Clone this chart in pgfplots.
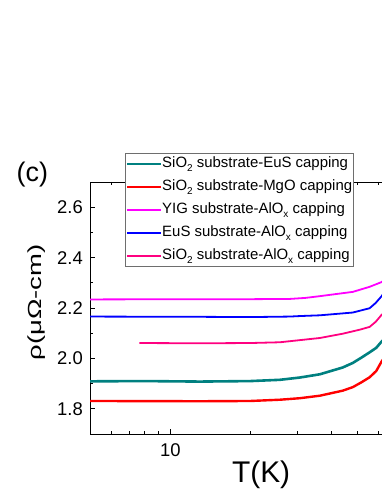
\documentclass[border=0pt]{standalone}
\usepackage{fontspec}
\setmainfont{Liberation Sans}
\usepackage{pgfplots}
\pgfplotsset{compat=1.18}
\definecolor{cteal}{RGB}{0,128,128}
\definecolor{cred}{RGB}{255,0,0}
\definecolor{cmag}{RGB}{255,0,255}
\definecolor{cblue}{RGB}{0,0,255}
\definecolor{cpink}{RGB}{255,0,128}
\definecolor{frame}{RGB}{110,110,110}
\newcommand{\sub}[1]{\raisebox{-0.3em}{\fontsize{10}{10}\selectfont #1}}
\begin{document}
\begin{tikzpicture}
\useasboundingbox (0,0) rectangle (382bp,494bp);
\begin{axis}[
  at={(90bp,60bp)}, anchor=south west,
  scale only axis, width=292bp, height=252bp,
  xmode=log, xmin=5, xmax=62, ymin=1.7, ymax=2.7,
  axis x line*=box, axis y line*=left,
  axis line style={-, line width=0.9bp, black},
  every tick/.style={black, line width=0.9bp},
  major tick length=5bp, minor tick length=3bp,
  xtick={10}, xticklabels={10},
  minor xtick={6,7,8,9,20,30,40,50,60},
  ytick={1.8,2.0,2.2,2.4,2.6}, yticklabels={1.8,2.0,2.2,2.4,2.6},
  minor ytick={1.9,2.1,2.3,2.5},
  /pgf/number format/assume math mode=true,
  tick label style={font=\fontsize{18.5}{18.5}\selectfont},
  yticklabel style={anchor=east, inner sep=0pt, xshift=-7bp},
  xticklabel style={anchor=north, inner sep=0pt, yshift=-9bp},
  xlabel={T(K)},
  xlabel style={at={(axis description cs:0.586,-0.1944)}, anchor=base, inner sep=0pt, font=\fontsize{30}{30}\selectfont},
  ylabel={\scalebox{1.45}[1]{ρ(μΩ-cm)}},
  ylabel style={at={(axis description cs:-0.1815,0.522)}, anchor=center, inner sep=0pt, font=\fontsize{19}{19}\selectfont},
  legend cell align=left,
  legend image code/.code={\draw[#1, line width=1.8bp] (0bp,0bp) -- (34bp,0bp);},
  legend style={at={(0.12,1.115)}, anchor=north west,
    font=\fontsize{15}{15}\selectfont, draw=frame, line width=0.8bp, fill=white,
    inner xsep=1bp, inner ysep=3bp, row sep=8.5bp,
    nodes={inner sep=0pt, text height=11bp, text depth=3.5bp},
    /tikz/every even column/.append style={column sep=3bp}},
]
\addplot[cteal, line width=2.6bp] coordinates {
(5.0,1.909) (8,1.910) (12.9,1.908) (19.9,1.910) (25.7,1.915) (30.5,1.924) (36.3,1.937) (44.2,1.964) (48.2,1.982) (51.9,2.003) (55.7,2.024) (59.0,2.042) (61.8,2.067) (63,2.075)};
\addlegendentry{SiO\sub{2} substrate-EuS capping}
\addplot[cred, line width=2.4bp] coordinates {
(5.0,1.831) (12.9,1.830) (19.9,1.831) (25.7,1.836) (30.5,1.842) (36.3,1.852) (44.2,1.872) (48.2,1.886) (51.9,1.905) (55.7,1.925) (59.0,1.950) (61.8,1.988) (63,2.0)};
\addlegendentry{SiO\sub{2} substrate-MgO capping}
\addplot[cmag, line width=1.8bp] coordinates {
(5.0,2.234) (12.9,2.235) (19.9,2.235) (28.0,2.236) (32,2.240) (36.3,2.247) (48.2,2.264) (55.7,2.284) (61.8,2.303) (63,2.31)};
\addlegendentry{YIG substrate-AlO\sub{x} capping}
\addplot[cblue, line width=1.8bp] coordinates {
(5.0,2.166) (12.9,2.165) (19.9,2.164) (28.0,2.166) (30.5,2.168) (36.3,2.171) (48.2,2.182) (55.7,2.199) (58.7,2.220) (61.8,2.247) (63,2.26)};
\addlegendentry{EuS substrate-AlO\sub{x} capping}
\addplot[cpink, line width=1.8bp] coordinates {
(7.66,2.061) (12.9,2.060) (19.9,2.061) (25.7,2.064) (36.3,2.081) (44.2,2.098) (51.2,2.114) (55.7,2.125) (58.7,2.145) (61.8,2.173) (63,2.18)};
\addlegendentry{SiO\sub{2} substrate-AlO\sub{x} capping}
\end{axis}
\node[anchor=base west, inner sep=0pt, font=\fontsize{27}{27}\selectfont] at (16.5bp,312bp) {(c)};
\end{tikzpicture}
\end{document}
